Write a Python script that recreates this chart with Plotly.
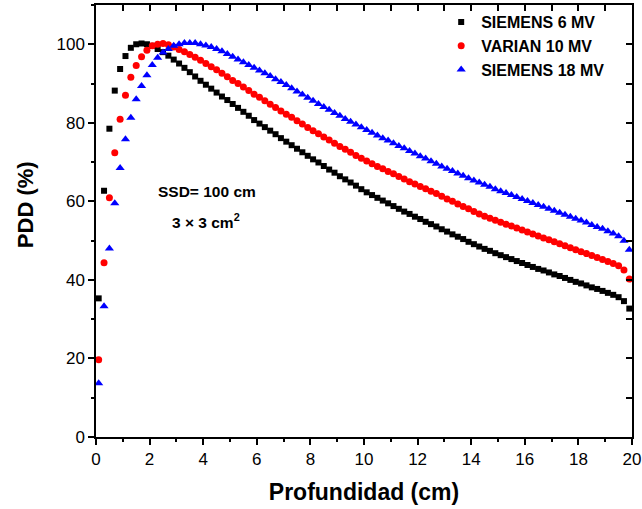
import plotly.graph_objects as go

depth_cm = [round(0.1 + 0.2 * i, 1) for i in range(100)]

siemens_6mv = [
    35.3, 62.7, 78.5, 88.2, 93.7, 97.0, 99.1, 100.0, 100.2, 100.0,
    99.6, 98.8, 98.0, 97.1, 96.1, 95.1, 94.0, 92.9, 91.8, 90.7,
    89.7, 88.7, 87.7, 86.7, 85.8, 84.8, 83.8, 82.8, 81.8, 80.7,
    79.8, 78.9, 78.0, 77.1, 76.1, 75.2, 74.3, 73.4, 72.5, 71.6,
    70.7, 69.9, 69.0, 68.1, 67.3, 66.4, 65.6, 64.8, 64.0, 63.1,
    62.3, 61.6, 60.9, 60.2, 59.5, 58.8, 58.1, 57.4, 56.8, 56.1,
    55.5, 54.8, 54.2, 53.6, 52.9, 52.3, 51.6, 51.0, 50.4, 49.7,
    49.1, 48.5, 47.9, 47.4, 46.8, 46.3, 45.8, 45.3, 44.8, 44.3,
    43.8, 43.3, 42.8, 42.4, 41.9, 41.4, 41.0, 40.5, 40.0, 39.5,
    39.1, 38.6, 38.1, 37.7, 37.2, 36.7, 36.2, 35.6, 34.6, 32.7,
]

varian_10mv = [
    19.7, 44.4, 60.9, 72.4, 80.9, 87.0, 91.6, 94.6, 96.8, 98.5,
    99.6, 100.0, 100.2, 99.9, 99.3, 98.7, 98.1, 97.4, 96.7, 95.9,
    95.1, 94.3, 93.5, 92.6, 91.7, 90.8, 90.0, 89.1, 88.2, 87.3,
    86.5, 85.6, 84.7, 83.9, 83.0, 82.2, 81.4, 80.5, 79.7, 78.8,
    78.0, 77.2, 76.4, 75.6, 74.8, 74.0, 73.3, 72.5, 71.7, 71.0,
    70.3, 69.6, 68.9, 68.3, 67.6, 67.0, 66.3, 65.7, 65.0, 64.4,
    63.8, 63.2, 62.6, 62.0, 61.3, 60.6, 60.0, 59.3, 58.7, 58.1,
    57.4, 56.8, 56.2, 55.7, 55.2, 54.7, 54.2, 53.7, 53.2, 52.7,
    52.2, 51.7, 51.2, 50.7, 50.2, 49.7, 49.2, 48.7, 48.2, 47.7,
    47.2, 46.7, 46.2, 45.7, 45.2, 44.7, 44.2, 43.6, 42.5, 40.2,
]

siemens_18mv = [
    13.7, 33.3, 48.0, 59.5, 68.5, 75.8, 81.3, 86.0, 89.4, 92.1,
    94.7, 96.6, 97.9, 98.8, 99.6, 100.0, 100.3, 100.3, 100.3, 100.0,
    99.7, 99.3, 98.8, 98.2, 97.5, 96.8, 96.1, 95.4, 94.7, 94.0,
    93.3, 92.6, 91.9, 91.1, 90.4, 89.6, 88.8, 88.0, 87.2, 86.4,
    85.6, 84.8, 84.0, 83.3, 82.5, 81.8, 81.0, 80.3, 79.6, 78.9,
    78.2, 77.5, 76.8, 76.1, 75.5, 74.8, 74.1, 73.5, 72.8, 72.2,
    71.5, 70.9, 70.2, 69.6, 68.9, 68.3, 67.7, 67.1, 66.5, 65.9,
    65.3, 64.8, 64.2, 63.7, 63.1, 62.6, 62.1, 61.6, 61.1, 60.6,
    60.1, 59.6, 59.1, 58.6, 58.1, 57.6, 57.1, 56.6, 56.1, 55.6,
    55.1, 54.6, 54.0, 53.5, 53.0, 52.4, 51.8, 51.1, 50.0, 47.7,
]

series_names = ["SIEMENS 6 MV", "VARIAN 10 MV", "SIEMENS 18 MV"]
FONT = "Arial, Liberation Sans, sans-serif"

fig = go.Figure()
fig.add_trace(go.Scatter(x=depth_cm, y=siemens_6mv, mode="markers", name=series_names[0],
                         marker=dict(symbol="square", size=6, color="black")))
fig.add_trace(go.Scatter(x=depth_cm, y=varian_10mv, mode="markers", name=series_names[1],
                         marker=dict(symbol="circle", size=7, color="red")))
fig.add_trace(go.Scatter(x=depth_cm, y=siemens_18mv, mode="markers", name=series_names[2],
                         marker=dict(symbol="triangle-up", size=8, color="blue")))
# invisible trace so the mirrored top/right axes (inward ticks) get drawn
fig.add_trace(go.Scatter(x=depth_cm[:1], y=siemens_6mv[:1], xaxis="x2", yaxis="y2", mode="markers",
                         marker=dict(opacity=0), showlegend=False, hoverinfo="skip"))

axis_common = dict(showgrid=False, zeroline=False, showline=True, linecolor="black", linewidth=1.5,
                   tickcolor="black", tickwidth=1.5)

fig.update_layout(
    width=642, height=509,
    margin=dict(l=96, r=10, t=5, b=72, autoexpand=False),
    paper_bgcolor="white", plot_bgcolor="white",
    font=dict(family=FONT, color="black"),
    xaxis=dict(range=[0, 20], dtick=2, tick0=0, ticks="outside", ticklen=6,
               minor=dict(dtick=1, ticks="outside", ticklen=3, tickcolor="black", tickwidth=1.5),
               tickfont=dict(size=17, family=FONT),
               title=dict(text="<b>Profundidad (cm)</b>", font=dict(size=23, family=FONT), standoff=16),
               **axis_common),
    yaxis=dict(range=[0, 110], dtick=20, tick0=0, ticks="outside", ticklen=6,
               minor=dict(dtick=10, ticks="outside", ticklen=3, tickcolor="black", tickwidth=1.5),
               tickfont=dict(size=17, family=FONT),
               **axis_common),
    xaxis2=dict(overlaying="x", side="top", range=[0, 20], dtick=1, tick0=0, ticks="inside", ticklen=6,
                showticklabels=False, **axis_common),
    yaxis2=dict(overlaying="y", side="right", range=[0, 110], dtick=10, tick0=0, ticks="inside", ticklen=6,
                showticklabels=False, **axis_common),
    legend=dict(x=0.644, y=1.0, xanchor="left", yanchor="top", bgcolor="rgba(0,0,0,0)",
                font=dict(size=16, family=FONT, weight="bold"), tracegroupgap=0, itemwidth=30),
    showlegend=True,
    annotations=[
        dict(text="<b>PDD (%)</b>", x=-0.1325, y=0.539, xref="paper", yref="paper", showarrow=False,
             textangle=-90, xanchor="center", yanchor="middle", font=dict(size=22, family=FONT)),
        dict(text="<b>SSD= 100 cm</b>", x=4.14, y=62.4, xref="x", yref="y", showarrow=False,
             font=dict(size=15.5, family=FONT)),
        dict(text="<b>3 × 3 cm<sup>2</sup></b>", x=4.1, y=55, xref="x", yref="y", showarrow=False,
             font=dict(size=15.5, family=FONT)),
    ],
)

fig.write_html("out.html")
